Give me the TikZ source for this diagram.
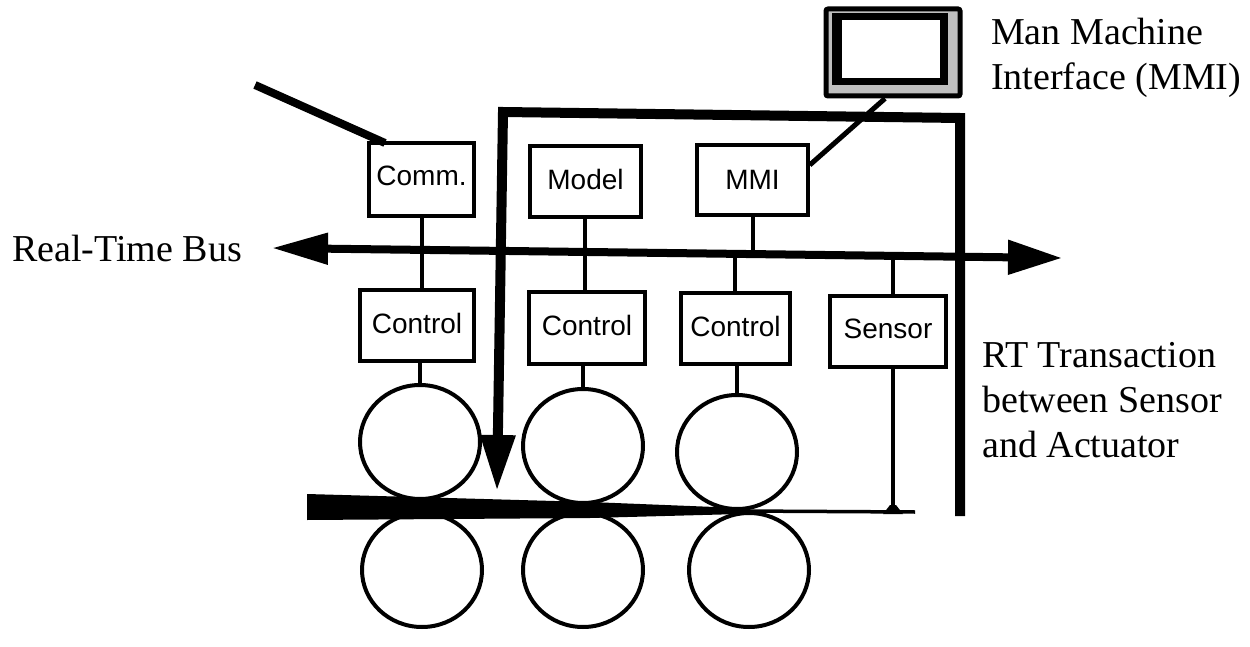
\documentclass[tikz,border=0pt]{standalone}
\usepackage{fontspec}
\setmainfont{Liberation Serif}
\setsansfont{Liberation Sans}
\usetikzlibrary{arrows.meta,shapes.geometric}
\tikzset{
  unitbox/.style={draw, line width=3.5pt, fill=white, font=\sffamily\fontsize{28}{30}\selectfont, inner sep=0pt},
  roll/.style={draw, line width=4pt, ellipse, inner sep=0pt, minimum width=120pt, minimum height=114pt},
  wire/.style={line width=3.5pt},
  caption/.style={font=\fontsize{38}{45}\selectfont, align=left, anchor=west, inner sep=0pt},
}
\begin{document}
\begin{tikzpicture}[x=1pt, y=-1pt]
\useasboundingbox (0,0) rectangle (1250,647);
% rolls
\node[roll] (rolla) at (420,442) {};
\node[roll] (rollb) at (583,446) {};
\node[roll] (rollc) at (737,452) {};
\node[roll] (rolld) at (422,570) {};
\node[roll] (rolle) at (583,570) {};
\node[roll] (rollf) at (749,570) {};
% rolled strip
\coordinate (stripend) at (915,512);
\coordinate (sensortap) at (893,509);
\fill (307,494) -- (590,502) -- (740,508) -- (740,514) -- (590,518) -- (307,520) -- cycle;
\draw[wire] (740,511) -- (stripend);
\fill (sensortap) ++(-10,5) -- ++(7,-9) -- ++(6,0) -- ++(7,9) -- cycle;
% boxes
\node[unitbox, minimum width=105pt, minimum height=73pt] (comm) at (421.5,179.5) {\raisebox{8pt}{Comm.}};
\node[unitbox, minimum width=111pt, minimum height=71pt] (model) at (585.5,181.5) {\raisebox{5pt}{Model}};
\node[unitbox, minimum width=111pt, minimum height=70pt] (mmi) at (752.5,180) {MMI};
\node[unitbox, minimum width=114pt, minimum height=71pt] (ctla) at (417,325.5) {\raisebox{5pt}{Control}};
\node[unitbox, minimum width=116pt, minimum height=72pt] (ctlb) at (587,328) {\raisebox{5pt}{Control}};
\node[unitbox, minimum width=109pt, minimum height=71pt] (ctlc) at (735.5,328.5) {\raisebox{5pt}{Control}};
\node[unitbox, minimum width=116pt, minimum height=71pt] (sensor) at (888,331.5) {\raisebox{5pt}{Sensor}};
% bus
\coordinate (buswest) at (272,248);
\coordinate (buseast) at (1062,258);
\coordinate (tapb) at (585,251);
\coordinate (tapc) at (753,253);
\coordinate (tapd) at (735,253);
\coordinate (tape) at (893,256);
\draw[line width=8pt, {Triangle[length=56pt,width=30pt]}-{Triangle[length=54pt,width=33pt]}] (buswest) -- (buseast);
\draw[wire] (comm.south -| 422,0) -- (ctla.north -| 422,0);
\draw[wire] (model.south -| tapb) -- (ctlb.north -| tapb);
\draw[wire] (mmi.south -| tapc) -- (tapc);
\draw[wire] (tapd) -- (ctlc.north -| tapd);
\draw[wire] (tape) -- (sensor.north -| tape);
\draw[wire] (sensor.south -| tape) -- (sensortap);
\draw[wire] (ctla.south -| rolla) -- (rolla.north);
\draw[wire] (ctlb.south -| rollb) -- (rollb.north);
\draw[wire] (ctlc.south -| rollc) -- (rollc.north);
% external link
\coordinate (linkstart) at (255,85);
\coordinate (linkbend) at (385,143);
\draw[line width=8pt] (linkstart) -- (linkbend);
% transaction path
\coordinate (rtstart) at (960,516);
\coordinate (rttop) at (960,118);
\coordinate (rtleft) at (503,112);
\coordinate (rtend) at (497,491);
\draw[line width=10pt, miter limit=10, -{Triangle[length=56pt,width=33pt]}] (rtstart) -- (rttop) -- (rtleft) -- (rtend);
% monitor
\node[draw, line width=5pt, fill=black!25, rounded corners=2pt, minimum width=134pt, minimum height=87pt, inner sep=0pt] (monitor) at (893,52.5) {};
\node[fill=black, minimum width=116pt, minimum height=72pt, inner sep=0pt] (bezel) at (890,49) {};
\node[fill=white, minimum width=98pt, minimum height=58pt, inner sep=0pt] (screen) at (891,49) {};
\draw[line width=5pt] (mmi.north east |- 0,165) -- (monitor.south -| 885,0);
% labels
\node[caption] (mmilabel) at (991,58) {Man Machine\\Interface (MMI)};
\node[caption] (buslabel) at (12,249) {Real-Time Bus};
\node[caption] (rtlabel) at (982,400) {RT Transaction\\between Sensor\\and Actuator};
\end{tikzpicture}
\end{document}
